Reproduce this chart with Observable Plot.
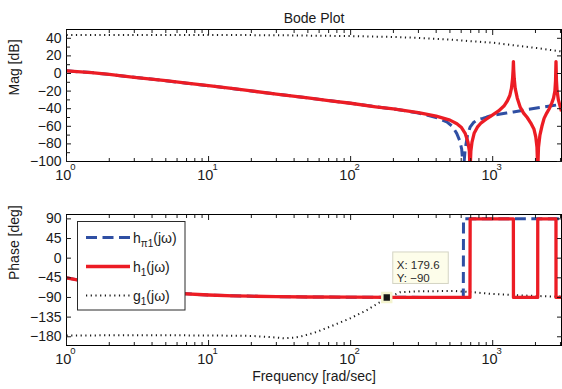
<!DOCTYPE html>
<html><head><meta charset="utf-8">
<script src="https://cdn.jsdelivr.net/npm/d3@7"></script>
<script src="https://cdn.jsdelivr.net/npm/@observablehq/plot@0.6"></script>
<style>
html,body{margin:0;padding:0;background:#fff;}
#chart{position:relative;width:562px;height:389px;overflow:hidden;}
#chart svg{position:absolute;left:0;}
</style></head><body><div id="chart"></div>
<script>
// ---------- ticks ----------
const majorFreqTicks = [1, 10, 100, 1000];
const freqTickBase = ["10", "10", "10", "10"];
const freqTickExp = ["0", "1", "2", "3"];
const minorFreqTicks = [2,3,4,5,6,7,8,9,20,30,40,50,60,70,80,90,200,300,400,500,600,700,800,900,2000,3000];
const magTicks = [-100, -80, -60, -40, -20, 0, 20, 40];
const magMinorTicks = [-90, -70, -50, -30, -10, 10, 30];
const phaseTicks = [-180, -135, -90, -45, 0, 45, 90];

// ---------- magnitude [dB] ----------
const h1MagFreq = [1,1.5,2,3,5,7,10,15,20,30,50,70,100,150,200,300,400,500,560,600,640,670,685,693,702,715,740,780,830,900,1000,1100,1200,1270,1320,1355,1380,1393,1399,1405,1418,1440,1490,1560,1650,1750,1850,1950,2010,2050,2075,2100,2150,2220,2300,2400,2500,2600,2680,2740,2770,2790,2810,2840,2900,2980,3050];
const h1Mag = [3,1,-1,-4.3,-8.2,-11,-13.8,-17.3,-19.8,-23.4,-27.8,-30.7,-33.8,-37.8,-40.3,-44.5,-48.5,-53,-57,-61,-68,-78,-88,-110,-88,-78,-68,-61,-56,-52,-47,-42.5,-37,-31,-25,-17,-6,5,13.5,5,-6,-17,-28,-38,-45,-50,-56,-63,-72,-84,-110,-84,-70,-60,-51,-45,-40,-34,-28,-20,-8,13.5,-8,-20,-30,-37,-43];
const hpiMagFreq = [1,1.5,2,3,5,7,10,15,20,30,50,70,100,150,200,300,400,475,520,558,585,605,622,640,665,693,730,772,850,908,1000,1135,1250,1399,1737,2145,2535,3050];
const hpiMag = [3,1,-1,-4.3,-8.2,-11,-13.8,-17.3,-19.8,-23.4,-27.8,-30.7,-33.8,-37.8,-40.3,-44.8,-50,-55,-60,-68,-76,-86,-110,-86,-70,-61,-56,-53,-51,-49.5,-47.5,-46,-45,-43.7,-41,-38.7,-37,-35];
const g1MagFreq = [1,10,30,100,200,300,500,731,1000,1256,1600,2145,2600,3050];
const g1Mag = [43.8,43.8,43.5,42.5,41.5,40.5,38.5,36.5,35,33,31,28.5,26.5,25];

// ---------- phase [deg] ----------
const h1PhaseFreq = [1,1.5,2,3,4,6,10,15,20,30,50,100,200,400,692,694,1398,1400,2074,2076,2789,2791,3050];
const h1Phase = [-45,-56,-63.4,-71.5,-76,-80.5,-84.3,-86.2,-87.1,-88.1,-88.9,-89.4,-89.7,-89.9,-90,90,90,-90,-90,90,90,-90,-90];
const hpiPhaseFreq = [1,1.5,2,3,4,6,10,15,20,30,50,100,200,400,621,623,3050];
const hpiPhase = [-45,-56,-63.4,-71.5,-76,-80.5,-84.3,-86.2,-87.1,-88.1,-88.9,-89.4,-89.7,-89.9,-90,90,90];
const g1PhaseFreq = [1,4,10,20,28,34,40,44,50,58,76,99,130,162,180,223,300,405,529,650,731,959,1644,2535,3050];
const g1Phase = [-177,-176.5,-177,-178,-181,-183.5,-182,-180,-175,-168.6,-153.5,-138,-119,-100,-91,-78,-76,-75.5,-75,-77,-78,-81.5,-85.5,-87.7,-88];

// ---------- data tip ----------
const tipFreq = [179.6];
const tipPhase = [-90];
const tipLines = ["X: 179.6", "Y: \u221290"];

// ---------- legend ----------
const legendSeries = ["hpi1", "h1", "g1"];
const legendMain = ["h", "h", "g"];
const legendSub = ["\u03c01", "1", "1"];
const legendTail = ["(j\u03c9)", "(j\u03c9)", "(j\u03c9)"];

const RED = "#ec1c24", BLUE = "#2f4fa3", DOT = "#1a1a1a";
const FONT = "'Liberation Sans', Arial, Helvetica, sans-serif";
const styles = {
  hpi1: {stroke: BLUE, strokeWidth: 3, strokeDasharray: "11,5.5"},
  h1: {stroke: RED, strokeWidth: 3.3, strokeDasharray: null},
  g1: {stroke: DOT, strokeWidth: 2, strokeDasharray: "1.2,3.5"}
};

const tbl = (series, freqs, vals) => freqs.map((f, i) => ({series, f, v: vals[i]}));
const lineMark = (series, freqs, vals) => Plot.line(tbl(series, freqs, vals), {
  x: "f", y: "v", clip: true, strokeLinejoin: "round", strokeLinecap: "butt", ...styles[series]
});

function frameAxes(yTicks, yMinor) {
  return [
    Plot.frame({stroke: "#000", strokeWidth: 1}),
    Plot.text(majorFreqTicks, {x: d => d, frameAnchor: "bottom", text: (d, i) => freqTickBase[i], dx: -3.2, dy: 18, fontSize: 14.5}),
    Plot.text(majorFreqTicks, {x: d => d, frameAnchor: "bottom", text: (d, i) => freqTickExp[i], dx: 6.5, dy: 8, fontSize: 9.5}),
    Plot.axisX({ticks: majorFreqTicks, fill: "none", tickSize: 5, dy: -5, label: null}),
    Plot.axisX({ticks: minorFreqTicks, fill: "none", tickSize: 3, dy: -3, label: null}),
    Plot.axisX({ticks: majorFreqTicks, anchor: "top", fill: "none", tickSize: 5, dy: 5, label: null}),
    Plot.axisX({ticks: minorFreqTicks, anchor: "top", fill: "none", tickSize: 3, dy: 3, label: null}),
    Plot.axisY({ticks: yTicks, tickSize: 0, tickPadding: 5, label: null}),
    Plot.axisY({ticks: yTicks, fill: "none", tickSize: 5, dx: 5, label: null}),
    yMinor ? Plot.axisY({ticks: yMinor, fill: "none", tickSize: 4, dx: 4, label: null}) : null,
    Plot.axisY({ticks: yTicks, anchor: "right", fill: "none", tickSize: 5, dx: -5, label: null})
  ];
}

const baseStyle = {fontFamily: FONT, fontSize: "14px", color: "#1a1a1a", background: "transparent", overflow: "visible"};

const magPlot = Plot.plot({
  width: 562, height: 190,
  marginLeft: 66, marginRight: 1, marginTop: 29, marginBottom: 29,
  style: baseStyle,
  x: {type: "log", domain: [1, 3050]},
  y: {domain: [-100, 50]},
  marks: [
    lineMark("g1", g1MagFreq, g1Mag),
    lineMark("hpi1", hpiMagFreq, hpiMag),
    lineMark("h1", h1MagFreq, h1Mag),
    ...frameAxes(magTicks, magMinorTicks),
    Plot.text(["Bode Plot"], {frameAnchor: "top", dy: -16}),
    Plot.text(["Mag [dB]"], {frameAnchor: "left", rotate: -90, dx: -52})
  ]
});

const phasePlot = Plot.plot({
  width: 562, height: 199,
  marginLeft: 66, marginRight: 1, marginTop: 24, marginBottom: 44,
  style: baseStyle,
  x: {type: "log", domain: [1, 3050]},
  y: {domain: [-200, 100]},
  marks: [
    lineMark("g1", g1PhaseFreq, g1Phase),
    lineMark("hpi1", hpiPhaseFreq, hpiPhase),
    lineMark("h1", h1PhaseFreq, h1Phase),
    ...frameAxes(phaseTicks, null),
    Plot.dot(tipFreq.map((f, i) => ({f, v: tipPhase[i]})), {x: "f", y: "v", symbol: "square", r: 5, fill: "#151515", stroke: "#f4f4cf", strokeWidth: 2.5}),
    Plot.text(["Phase [deg]"], {frameAnchor: "left", rotate: -90, dx: -52}),
    Plot.text(["Frequency [rad/sec]"], {frameAnchor: "bottom", dy: 35})
  ]
});

const chart = document.getElementById("chart");
magPlot.style.top = "0px";
phasePlot.style.top = "190px";
chart.appendChild(magPlot);
chart.appendChild(phasePlot);

// data tip box
{
  const sx = phasePlot.scale("x"), sy = phasePlot.scale("y");
  const mx = sx.apply(tipFreq[0]), my = sy.apply(tipPhase[0]);
  const g = d3.select(phasePlot).append("g").attr("font-family", FONT).attr("font-size", 11.5)
    .attr("fill", "#2a2a2a").attr("text-anchor", "start");
  g.append("rect").attr("x", mx + 6.5).attr("y", my - 45).attr("width", 55.5).attr("height", 31.5)
    .attr("fill", "#fdfdea").attr("stroke", "#d4d4c4").attr("stroke-width", 1);
  tipLines.forEach((t, i) => g.append("text").attr("x", mx + 10.5).attr("y", my - 28 + i * 13).text(t));
}

// legend
{
  const g = d3.select(phasePlot).append("g").attr("font-family", FONT).attr("font-size", 14)
    .attr("fill", "#1a1a1a").attr("text-anchor", "start");
  g.append("rect").attr("x", 77.5).attr("y", 31.5).attr("width", 107.5).attr("height", 88.5)
    .attr("fill", "#fff").attr("stroke", "#2a2a2a").attr("stroke-width", 1);
  legendSeries.forEach((s, i) => {
    const y = 47.5 + i * 29;
    const st = styles[s];
    g.append("line").attr("x1", 86).attr("x2", 130).attr("y1", y).attr("y2", y)
      .attr("stroke", st.stroke).attr("stroke-width", st.strokeWidth)
      .attr("stroke-dasharray", st.strokeDasharray);
    const t = g.append("text").attr("x", 133).attr("y", y + 5);
    t.append("tspan").text(legendMain[i]);
    t.append("tspan").attr("font-size", 10).attr("dy", 4.5).text(legendSub[i]);
    t.append("tspan").attr("dy", -4.5).text(legendTail[i]);
  });
}
</script></body></html>
